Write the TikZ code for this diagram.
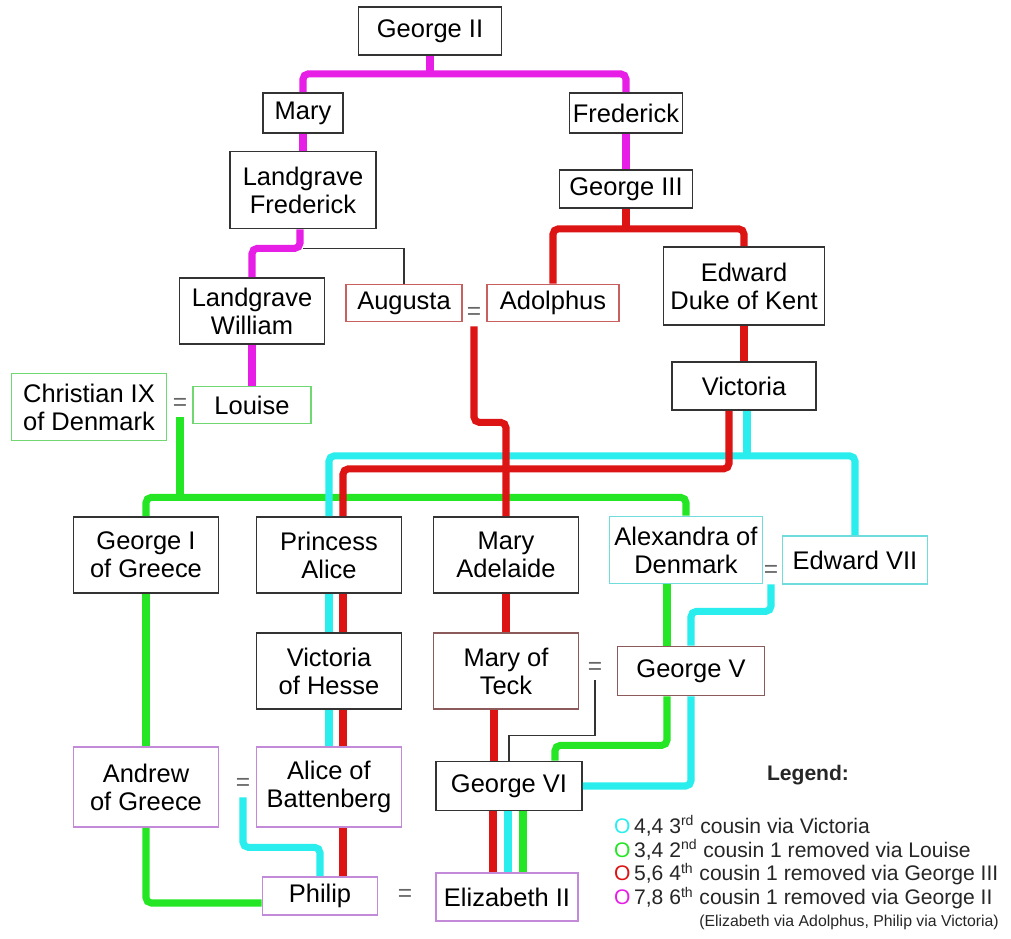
\documentclass[tikz,border=0pt]{standalone}
\usepackage{fontspec}
\setmainfont{Liberation Sans}
\usepackage{tikz}
\usetikzlibrary{calc}

\definecolor{linkmag}{HTML}{E61EE6}
\definecolor{linkred}{HTML}{DD1414}
\definecolor{linkcyan}{HTML}{2AEEEE}
\definecolor{linkgreen}{HTML}{24E624}
\definecolor{edgered}{HTML}{C86060}
\definecolor{edgebrown}{HTML}{8C5A5A}
\definecolor{edgegreen}{HTML}{70D870}
\definecolor{edgecyan}{HTML}{70DCDC}
\definecolor{edgepurple}{HTML}{C48ADA}

\begin{document}
\begin{tikzpicture}[x=0.02cm, y=-0.02cm,
    person/.style={draw=black!80, line width=1pt, fill=white, align=center, inner sep=1pt, font=\fontsize{14.5}{16}\selectfont},
    twoline/.style={minimum width=2.9cm, minimum height=1.52cm},
    eqsign/.style={text=black!60, inner sep=0pt, font=\fontsize{14}{14}\selectfont},
    mag/.style={linkmag, line width=4pt, rounded corners=3pt},
    redlink/.style={linkred, line width=4pt, rounded corners=3pt},
    cyanlink/.style={linkcyan, line width=4pt, rounded corners=3pt},
    greenlink/.style={linkgreen, line width=4pt, rounded corners=3pt},
    thinlink/.style={black!80, line width=0.8pt},
    key/.style={anchor=west, text=black!85, font=\fontsize{12}{12}\selectfont}
]
    \path[use as bounding box, fill=white] (0,0) rectangle (1011,939);

    % Ancestors
    \node[person, minimum width=2.86cm, minimum height=0.96cm] (gtwo) at (430,31) {George II};
    \node[person, minimum width=1.6cm, minimum height=0.8cm] (mary) at (303,113) {Mary};
    \node[person, minimum width=2.26cm, minimum height=0.8cm] (fred) at (626,113) {Frederick};
    \node[person, minimum width=2.92cm, minimum height=1.54cm] (lfred) at (303,190) {Landgrave\\Frederick};
    \node[person, minimum width=2.66cm, minimum height=0.76cm] (gthree) at (626,189) {George III};
    \node[person, minimum width=2.9cm, minimum height=1.32cm] (lwill) at (252,311) {Landgrave\\William};
    \node[person, draw=edgered, minimum width=2.32cm, minimum height=0.74cm] (augusta) at (404,303) {Augusta};
    \node[person, draw=edgered, minimum width=2.64cm, minimum height=0.74cm] (adolphus) at (553,303) {Adolphus};
    \node[person, minimum width=3.22cm, minimum height=1.56cm] (kent) at (744,286) {Edward\\Duke of Kent};
    \node[person, minimum width=2.88cm, minimum height=0.96cm] (victoria) at (744,386) {Victoria};
    \node[person, draw=edgegreen, minimum width=3.1cm, minimum height=1.34cm] (christian) at (89,407) {Christian IX\\of Denmark};
    \node[person, draw=edgegreen, minimum width=2.36cm, minimum height=0.74cm] (louise) at (252,405) {Louise};

    % Grandchildren of Victoria and Louise
    \node[person, twoline] (gone) at (146,555) {George I\\of Greece};
    \node[person, twoline] (palice) at (329,555) {Princess\\Alice};
    \node[person, twoline] (madel) at (506,555) {Mary\\Adelaide};
    \node[person, draw=edgecyan, minimum width=3.06cm, minimum height=1.34cm] (alex) at (686,550) {Alexandra of\\Denmark};
    \node[person, draw=edgecyan, minimum width=2.9cm, minimum height=0.96cm] (eseven) at (855,560) {Edward VII};
    \node[person, twoline] (voh) at (329,671) {Victoria\\of Hesse};
    \node[person, twoline, draw=edgebrown] (teck) at (506,671) {Mary of\\Teck};
    \node[person, draw=edgebrown, minimum width=2.94cm, minimum height=0.98cm] (gfive) at (691,671) {George V};
    \node[person, draw=edgepurple, minimum width=2.9cm, minimum height=1.6cm] (andrew) at (146,787) {Andrew\\of Greece};
    \node[person, draw=edgepurple, minimum width=2.9cm, minimum height=1.6cm] (alice) at (329,787) {Alice of\\Battenberg};
    \node[person, minimum width=2.92cm, minimum height=0.98cm] (gsix) at (509,786) {George VI};
    \node[person, draw=edgepurple, minimum width=2.3cm, minimum height=0.76cm] (philip) at (320,896) {Philip};
    \node[person, draw=edgepurple, minimum width=2.84cm, minimum height=0.96cm] (elizabeth) at (507,897) {Elizabeth II};

    % Marriages
    \node[eqsign] (eqa) at (474,313) {=};
    \node[eqsign] (eqb) at (180,404) {=};
    \node[eqsign] (eqc) at (771,571) {=};
    \node[eqsign] (eqd) at (595,668) {=};
    \node[eqsign] (eqe) at (243,784) {=};
    \node[eqsign] (eqf) at (405,895) {=};

    % Thin lines
    \draw[thinlink] ($(lfred.south)+(0,19)$) -| (augusta.north);
    \draw[thinlink] ($(eqd.south)+(0,6)$) -- ++(0,55) -| (gsix.north);

    % George II line
    \draw[mag] (gtwo.south) -- ++(0,18) coordinate (jtwo);
    \draw[mag] (mary.north) |- (jtwo) -| (fred.north);
    \draw[mag] (mary.south) -- (lfred.north);
    \draw[mag] (fred.south) -- (gthree.north);
    \draw[mag] ($(lfred.south)+(-3,0)$) -- ++(0,19) -| (lwill.north);
    \draw[mag] (lwill.south) -- (louise.north);

    % Louise line
    \draw[greenlink] ($(eqb.south)+(0,7)$) -- ++(0,80) coordinate (jchr);
    \draw[greenlink] (gone.north) |- (jchr) -| (alex.north);
    \draw[greenlink] (gone.south) -- (andrew.north);
    \draw[greenlink] (andrew.south) |- ($(philip.west)+(0,7)$);
    \draw[greenlink] ($(alex.south)+(-19,0)$) coordinate (ga) -- (ga |- gfive.north);
    \draw[greenlink] ($(gfive.south)+(-24,0)$) -- ++(0,49) -| ($(gsix.north)+(46,0)$);
    \draw[greenlink] ($(gsix.south)+(14,0)$) coordinate (gs) -- (gs |- elizabeth.north);

    % Victoria line
    \draw[cyanlink] ($(victoria.south)+(3,0)$) -- ++(0,45) coordinate (jvic);
    \draw[cyanlink] (palice.north) |- (jvic) -| (eseven.north);
    \foreach \a/\b in {palice/voh, voh/alice}
        \draw[cyanlink] (\a.south) -- (\b.north);
    \draw[cyanlink] ($(eqe.south)+(0,7)$) -- ++(0,50) -| (philip.north);
    \draw[cyanlink] ($(eqc.south)+(0,7)$) -- ++(0,27) -| (gfive.north);
    \draw[cyanlink] (gfive.south) |- (gsix.east);
    \draw[cyanlink] ($(gsix.south)+(-1,0)$) coordinate (cs) -- (cs |- elizabeth.north);

    % George III line
    \draw[redlink] (gthree.south) -- ++(0,20) coordinate (jthree);
    \draw[redlink] (adolphus.north) |- (jthree) -| (kent.north);
    \draw[redlink] (kent.south) -- (victoria.north);
    \draw[redlink] ($(victoria.south)+(-15,0)$) -- ++(0,58) -| ($(palice.north)+(14,0)$);
    \foreach \a/\b in {palice/voh, voh/alice, alice/philip}
        \draw[redlink] ($(\a.south)+(14,0)$) coordinate (rc) -- (rc |- \b.north);
    \draw[redlink] ($(eqa.south)+(0,7)$) -- ++(0,96) -| (madel.north);
    \draw[redlink] (madel.south) -- (teck.north);
    \draw[redlink] ($(teck.south)+(-12,0)$) coordinate (rt) -- (rt |- gsix.north);
    \draw[redlink] ($(gsix.south)+(-16,0)$) coordinate (rs) -- (rs |- elizabeth.north);

    % Legend
    \node[font=\bfseries\fontsize{12}{12}\selectfont, text=black!85] (legend) at (808,775) {Legend:};
    \foreach \c/\t [count=\i] in {linkcyan/{4,4 3\textsuperscript{rd} cousin via Victoria},
                                  linkgreen/{3,4 2\textsuperscript{nd} cousin 1 removed via Louise},
                                  linkred/{5,6 4\textsuperscript{th} cousin 1 removed via George III},
                                  linkmag/{7,8 6\textsuperscript{th} cousin 1 removed via George II}}
        \node[key] (key\i) at (608,{802+24*\i}) {\textcolor{\c}{O}\,\t};
    \node[anchor=east, text=black!85, font=\fontsize{9}{9}\selectfont] (keynote) at (1005,922) {(Elizabeth via Adolphus, Philip via Victoria)};
\end{tikzpicture}
\end{document}
